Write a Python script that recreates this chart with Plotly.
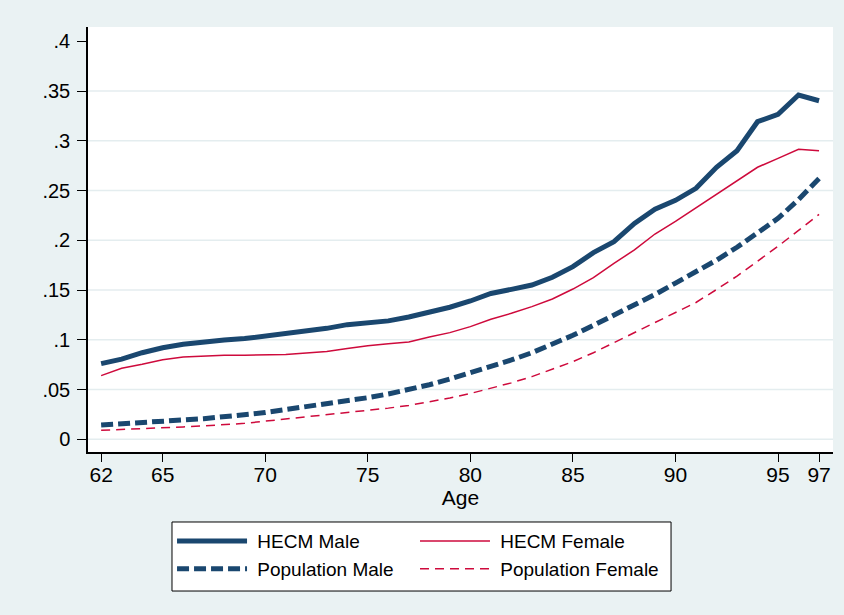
import plotly.graph_objects as go

ages = list(range(62, 98))

hecm_male = [0.076, 0.0805, 0.087, 0.092, 0.0955, 0.098, 0.0998, 0.1012, 0.1035, 0.106,
             0.1088, 0.1115, 0.1152, 0.1166, 0.119, 0.1229, 0.1276, 0.1327, 0.139, 0.1465,
             0.1507, 0.155, 0.1628, 0.1735, 0.1876, 0.1986, 0.217, 0.2312, 0.2402, 0.2522,
             0.2734, 0.29, 0.3192, 0.3266, 0.346, 0.3403]

hecm_female = [0.064, 0.0713, 0.0753, 0.080, 0.0827, 0.0837, 0.0844, 0.0844, 0.0847, 0.0852,
               0.0866, 0.0882, 0.0912, 0.094, 0.096, 0.0978, 0.1028, 0.1072, 0.1132, 0.1206,
               0.1266, 0.1333, 0.141, 0.151, 0.1624, 0.1769, 0.1903, 0.2063, 0.219, 0.2325,
               0.246, 0.26, 0.2734, 0.2824, 0.2914, 0.290]

pop_male = [0.0144, 0.0154, 0.0167, 0.018, 0.0194, 0.0207, 0.0224, 0.0244, 0.0268, 0.0299,
            0.0328, 0.0355, 0.0385, 0.0418, 0.0455, 0.050, 0.0548, 0.0605, 0.0665, 0.073,
            0.0797, 0.087, 0.0955, 0.1045, 0.1145, 0.1245, 0.135, 0.1455, 0.157, 0.168,
            0.180, 0.193, 0.207, 0.222, 0.241, 0.262]

pop_female = [0.009, 0.0097, 0.0104, 0.0114, 0.0124, 0.0134, 0.0144, 0.016, 0.0182, 0.0204,
              0.0225, 0.0245, 0.0265, 0.0288, 0.0313, 0.034, 0.0375, 0.0415, 0.046, 0.0515,
              0.0567, 0.063, 0.0703, 0.078, 0.087, 0.097, 0.107, 0.117, 0.127, 0.1375,
              0.1505, 0.164, 0.179, 0.194, 0.21, 0.226]

x_ticks = [62, 65, 70, 75, 80, 85, 90, 95, 97]
y_ticks = [0, 0.05, 0.1, 0.15, 0.2, 0.25, 0.3, 0.35, 0.4]
y_tick_labels = ["0", ".05", ".1", ".15", ".2", ".25", ".3", ".35", ".4"]

NAVY = "#1A476F"
RED = "#CE0A3C"
BG = "#EAF2F3"
GRID = "#E4EDEF"
FONT = "Liberation Sans, Arial, sans-serif"
NB = "\u00a0"

fig = go.Figure()
fig.add_trace(go.Scatter(x=ages, y=hecm_male, mode="lines", name=NB + "HECM Male",
                         legend="legend", legendgroup="a",
                         line=dict(color=NAVY, width=5)))
fig.add_trace(go.Scatter(x=ages, y=hecm_female, mode="lines", name=NB + "HECM Female",
                         legend="legend2", legendgroup="b",
                         line=dict(color=RED, width=1.5)))
fig.add_trace(go.Scatter(x=ages, y=pop_male, mode="lines", name=NB + "Population Male",
                         legend="legend", legendgroup="c",
                         line=dict(color=NAVY, width=5, dash="12px,5px")))
fig.add_trace(go.Scatter(x=ages, y=pop_female, mode="lines", name=NB + "Population Female",
                         legend="legend2", legendgroup="d",
                         line=dict(color=RED, width=1.5, dash="9px,6px")))

# gridlines at every y tick except the top one (as in the original)
for v in y_ticks[:-1]:
    fig.add_hline(y=v, line=dict(color=GRID, width=1.5), layer="below")

# legend frame
fig.add_shape(type="rect", xref="paper", yref="paper",
              x0=0.11275, x1=0.7826, y0=-0.3271, y1=-0.1647,
              fillcolor="white", line=dict(color="black", width=1), layer="above")

leg_common = dict(orientation="v", y=-0.165, yanchor="top", xanchor="left",
                  bgcolor="rgba(0,0,0,0)", borderwidth=0, font=dict(size=19),
                  itemwidth=70, tracegroupgap=5, traceorder="normal")

fig.update_layout(
    width=844, height=615,
    margin=dict(l=88, r=11, t=27, b=163, autoexpand=False),
    paper_bgcolor=BG, plot_bgcolor="white",
    font=dict(family=FONT, size=21, color="black"),
    showlegend=True,
    legend=dict(x=0.1128, **leg_common),
    legend2=dict(x=0.4389, **leg_common),
    xaxis=dict(range=[61.36, 97.68], tickvals=x_ticks, ticks="outside", ticklen=8,
               tickwidth=1.2, tickcolor="black", showgrid=False, zeroline=False,
               showline=True, linecolor="black", linewidth=1.5, automargin=False,
               ticklabelstandoff=-5, tickfont=dict(size=21),
               title=dict(text="Age", font=dict(size=21), standoff=0)),
    yaxis=dict(range=[-0.0128, 0.4144], tickvals=y_ticks, ticktext=y_tick_labels,
               ticks="outside", ticklen=9, tickwidth=1.2, tickcolor="black",
               showgrid=False, zeroline=False,
               showline=True, linecolor="black", linewidth=1.5, automargin=False,
               ticklabelstandoff=3, tickfont=dict(size=20)),
)

fig.write_html(
    "out.html",
    config={"displayModeBar": False},
    post_script="document.body.style.margin='0';document.body.style.background='%s';" % BG,
)
